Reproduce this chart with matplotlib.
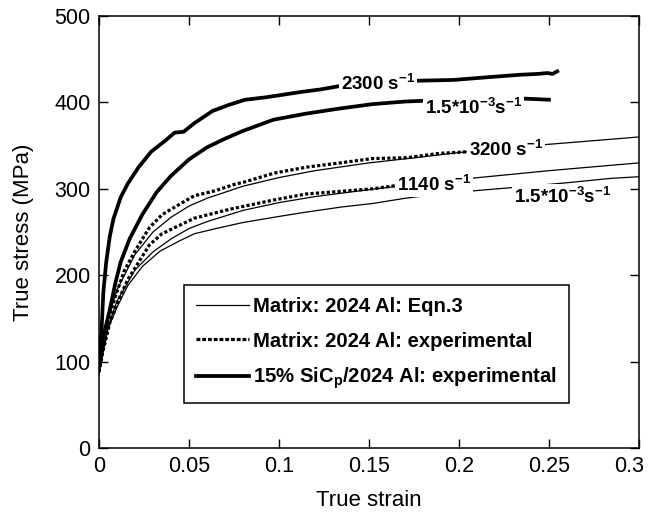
import numpy as np
import matplotlib
matplotlib.use("Agg")
import matplotlib.pyplot as plt
import matplotlib.transforms as mtransforms
from matplotlib.lines import Line2D

plt.rcParams['font.family'] = ['Liberation Sans', 'DejaVu Sans']
plt.rcParams['mathtext.fontset'] = 'custom'
plt.rcParams['mathtext.rm'] = 'Liberation Sans'
plt.rcParams['mathtext.bf'] = 'Liberation Sans:bold'
plt.rcParams['mathtext.it'] = 'Liberation Sans:italic'

# ---- data ----
comp2300_strain = [0, 0.0006, 0.0015, 0.0024, 0.004, 0.006, 0.008, 0.012, 0.016, 0.022, 0.029, 0.037,
                   0.042, 0.047, 0.053, 0.063, 0.072, 0.081, 0.093, 0.112, 0.123, 0.134, 0.150, 0.165,
                   0.175, 0.197, 0.215, 0.234, 0.244, 0.249, 0.252, 0.2555]
comp2300_stress = [95, 110, 140, 180, 215, 245, 265, 290, 306, 325, 343, 356,
                   365, 366, 376, 390, 397, 403, 406, 412, 415, 419, 421, 423,
                   425, 426, 429, 432, 433, 434, 433, 437]

comp15_strain = [0, 0.0006, 0.0024, 0.006, 0.009, 0.012, 0.017, 0.024, 0.032, 0.040, 0.050, 0.060,
                 0.070, 0.080, 0.097, 0.115, 0.134, 0.152, 0.170, 0.182, 0.200, 0.235, 0.251]
comp15_stress = [95, 102, 129, 160, 190, 215, 242, 270, 296, 315, 334, 348,
                 358, 367, 380, 387, 393, 398, 401, 402, 403, 404.5, 403]

exp3200_strain = [0, 0.0015, 0.004, 0.009, 0.014, 0.020, 0.028, 0.035, 0.043, 0.053, 0.065, 0.075,
                  0.081, 0.097, 0.115, 0.134, 0.152, 0.171, 0.189, 0.206]
exp3200_stress = [88, 106, 140, 175, 205, 228, 255, 270, 280, 292, 298, 305,
                  308, 318, 325, 330, 335, 336, 341, 343]

exp1140_strain = [0, 0.002, 0.006, 0.011, 0.016, 0.022, 0.028, 0.035, 0.042, 0.053, 0.072, 0.081,
                  0.097, 0.115, 0.134, 0.152, 0.166]
exp1140_stress = [88, 110, 145, 172, 195, 215, 235, 248, 255, 266, 276, 280,
                  287, 294, 297, 300, 304]

eq3200_strain = [0, 0.002, 0.005, 0.010, 0.020, 0.030, 0.040, 0.050, 0.060, 0.080, 0.100, 0.120,
                 0.150, 0.180, 0.200, 0.247, 0.300]
eq3200_stress = [90, 120, 150, 183, 224, 250, 267, 280, 289, 303, 313, 321,
                 330, 337, 342, 351, 360]

eq1140_strain = [0, 0.002, 0.005, 0.010, 0.020, 0.030, 0.040, 0.050, 0.060, 0.080, 0.100, 0.120,
                 0.150, 0.170, 0.206, 0.250, 0.300]
eq1140_stress = [88, 112, 140, 170, 206, 227, 242, 254, 262, 275, 284, 291,
                 299, 304, 312, 321, 330]

eq15_strain = [0, 0.002, 0.005, 0.010, 0.016, 0.024, 0.034, 0.045, 0.053, 0.065, 0.080, 0.100,
               0.115, 0.135, 0.152, 0.170, 0.189, 0.210, 0.233, 0.260, 0.284, 0.300]
eq15_stress = [85, 108, 138, 163, 188, 210, 228, 240, 248, 254, 261, 268,
               273, 279, 283, 289, 294, 298, 302, 307, 312, 314]

labels_text = [r'2300 s$^{\mathbf{-1}}$', r'1.5*10$^{\mathbf{-3}}$s$^{\mathbf{-1}}$',
               r'3200 s$^{\mathbf{-1}}$', r'1140 s$^{\mathbf{-1}}$',
               r'1.5*10$^{\mathbf{-3}}$s$^{\mathbf{-1}}$']
labels_x = [0.155, 0.208, 0.226, 0.186, 0.2575]
labels_y = [421, 393, 345, 305, 291]

legend_labels = ['Matrix: 2024 Al: Eqn.3', 'Matrix: 2024 Al: experimental',
                 r'15% SiC$_{\mathbf{p}}$/2024 Al: experimental']

xticks = [0, 0.05, 0.1, 0.15, 0.2, 0.25, 0.3]
xticklabels = ['0', '0.05', '0.1', '0.15', '0.2', '0.25', '0.3']
yticks = [0, 100, 200, 300, 400, 500]

# ---- plot ----
fig = plt.figure(figsize=(6.49, 5.16), dpi=100)
ax = fig.add_axes([99/649, 1-448/516, 540/649, 432/516])

thin_lw = 0.9
dot_ls = (0, (1.0, 0.7))
dot_lw = 2.3
thick_lw = 2.7

ax.plot(eq3200_strain, eq3200_stress, color='black', lw=thin_lw, zorder=2)
ax.plot(eq1140_strain, eq1140_stress, color='black', lw=thin_lw, zorder=2)
ax.plot(eq15_strain, eq15_stress, color='black', lw=thin_lw, zorder=2)
ax.plot(exp3200_strain, exp3200_stress, color='black', lw=dot_lw, ls=dot_ls, zorder=3)
ax.plot(exp1140_strain, exp1140_stress, color='black', lw=dot_lw, ls=dot_ls, zorder=3)
ax.plot(comp2300_strain, comp2300_stress, color='black', lw=thick_lw, zorder=3,
        solid_capstyle='butt')
ax.plot(comp15_strain, comp15_stress, color='black', lw=thick_lw, zorder=3,
        solid_capstyle='butt')

for t, x, y in zip(labels_text, labels_x, labels_y):
    ax.text(x, y, t, ha='center', va='center', fontsize=13.5, fontweight='bold', zorder=5,
            bbox=dict(facecolor='white', edgecolor='none', pad=1.5))

handles = [Line2D([], [], color='black', lw=thin_lw),
           Line2D([], [], color='black', lw=dot_lw, ls=(0, (1.2, 0.6))),
           Line2D([], [], color='black', lw=thick_lw)]
leg = ax.legend(handles, legend_labels, loc='upper left', bbox_to_anchor=(0.157, 0.377),
                borderaxespad=0, prop={'weight': 'bold', 'size': 14.6}, handlelength=2.6,
                handletextpad=0.2, labelspacing=0.75, borderpad=0.6, fancybox=False,
                framealpha=1, edgecolor='black')
leg.get_frame().set_linewidth(1.1)

ax.set_xlim(0, 0.3)
ax.set_ylim(0, 500)
ax.set_xticks(xticks)
ax.set_xticklabels(xticklabels)
ax.set_yticks(yticks)
ax.tick_params(direction='in', length=6.5, width=1.0, top=True, right=True,
               labelsize=15.5, pad=6)
for s in ax.spines.values():
    s.set_linewidth(1.1)

# keep the last x tick label inside the figure, as in the reference
last = ax.get_xticklabels()[-1]
last.set_transform(last.get_transform() + mtransforms.ScaledTranslation(-10/100, 0, fig.dpi_scale_trans))

ax.set_xlabel('True strain', fontsize=16, labelpad=9)
ax.set_ylabel('True stress (MPa)', fontsize=16, labelpad=15)

fig.savefig('out.png', dpi=100)
